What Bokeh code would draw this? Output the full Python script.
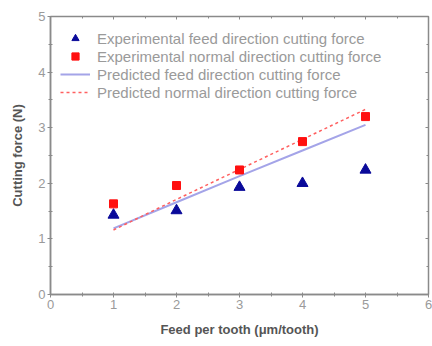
from bokeh.plotting import figure
from bokeh.models import LinearAxis, Range1d, Legend, LegendItem, FixedTicker
from bokeh.embed import file_html
from bokeh.resources import INLINE

feed = [1, 2, 3, 4, 5]
exp_feed_force = [1.43, 1.51, 1.93, 2.00, 2.24]
exp_normal_force = [1.63, 1.96, 2.24, 2.75, 3.20]
pred_feed_force = [1.19, 1.66, 2.13, 2.59, 3.05]
pred_normal_force = [1.16, 1.71, 2.25, 2.79, 3.33]
x_ticks = [0, 1, 2, 3, 4, 5, 6]
y_ticks = [0, 1, 2, 3, 4, 5]

FONT = "Liberation Sans"
GRAY = "#9a9a9a"
AXC = "#8a8a8a"

p = figure(width=432, height=346, output_backend="svg", toolbar_location=None,
           x_range=Range1d(0, 6), y_range=Range1d(0, 5),
           min_border_left=50, min_border_right=4, min_border_top=16, min_border_bottom=52)
p.xgrid.visible = False
p.ygrid.visible = False
p.outline_line_color = AXC
p.outline_line_width = 1.5
p.background_fill_color = "white"
p.border_fill_color = "white"

for ax in (p.xaxis[0], p.yaxis[0]):
    ax.axis_line_color = AXC
    ax.axis_line_width = 1.5
    ax.major_tick_line_color = AXC
    ax.minor_tick_line_color = AXC
    ax.major_tick_in = 2
    ax.major_tick_out = 3
    ax.minor_tick_in = 2
    ax.minor_tick_out = 2
    ax.major_label_text_color = GRAY
    ax.major_label_text_font = FONT
    ax.major_label_text_font_size = "13px"
    ax.axis_label_text_font = FONT
    ax.axis_label_text_font_style = "bold"
    ax.axis_label_text_color = "#555555"
    ax.axis_label_text_font_size = "13px"

p.xaxis.ticker = FixedTicker(ticks=x_ticks, minor_ticks=[0.5, 1.5, 2.5, 3.5, 4.5, 5.5])
p.yaxis.ticker = FixedTicker(ticks=y_ticks, minor_ticks=[0.5, 1.5, 2.5, 3.5, 4.5])
p.xaxis.axis_label = "Feed per tooth (μm/tooth)"
p.yaxis.axis_label = "Cutting force (N)"
p.xaxis.axis_label_standoff = 10
p.yaxis.axis_label_standoff = 10
p.xaxis.major_label_standoff = 2
p.yaxis.major_label_standoff = 2

top = LinearAxis(ticker=FixedTicker(ticks=x_ticks, minor_ticks=[0.5, 1.5, 2.5, 3.5, 4.5, 5.5]),
                 major_label_overrides={t: "" for t in x_ticks},
                 major_label_text_font_size="1px", axis_line_color=AXC,
                 major_tick_line_color=AXC, minor_tick_line_color=AXC,
                 major_tick_in=3, major_tick_out=0, minor_tick_in=2, minor_tick_out=0,
                 major_label_standoff=0)
right = LinearAxis(ticker=FixedTicker(ticks=y_ticks, minor_ticks=[0.5, 1.5, 2.5, 3.5, 4.5]),
                   major_label_overrides={t: "" for t in y_ticks},
                   major_label_text_font_size="1px", axis_line_color=AXC,
                   major_tick_line_color=AXC, minor_tick_line_color=AXC,
                   major_tick_in=3, major_tick_out=0, minor_tick_in=2, minor_tick_out=0,
                   major_label_standoff=0)
p.add_layout(top, "above")
p.add_layout(right, "right")

r_pf = p.line(feed, pred_feed_force, line_color="#9a9ae6", line_width=2, line_alpha=0.9)
r_pn = p.line(feed, pred_normal_force, line_color="#ff6060", line_width=1.5, line_dash="3 3")
r_ef = p.scatter(feed, exp_feed_force, marker="triangle", size=11, fill_color="#0a0a9a",
                 line_color="#0a0a9a")
r_en = p.scatter(feed, exp_normal_force, marker="square", size=8, fill_color="#ff1010",
                 line_color="#ff1010")

legend = Legend(items=[
    LegendItem(label="Experimental feed direction cutting force", renderers=[r_ef]),
    LegendItem(label="Experimental normal direction cutting force", renderers=[r_en]),
    LegendItem(label="Predicted feed direction cutting force", renderers=[r_pf]),
    LegendItem(label="Predicted normal direction cutting force", renderers=[r_pn]),
], location=(10, 193))
legend.border_line_color = None
legend.background_fill_alpha = 0
legend.padding = 0
legend.margin = 0
legend.spacing = 0
legend.label_height = 18
legend.glyph_height = 18
legend.glyph_width = 30
legend.label_standoff = 7
legend.label_text_font = FONT
legend.label_text_font_size = "15px"
legend.label_text_color = GRAY
p.add_layout(legend, "center")

open("out.html", "w").write(file_html(p, INLINE))
